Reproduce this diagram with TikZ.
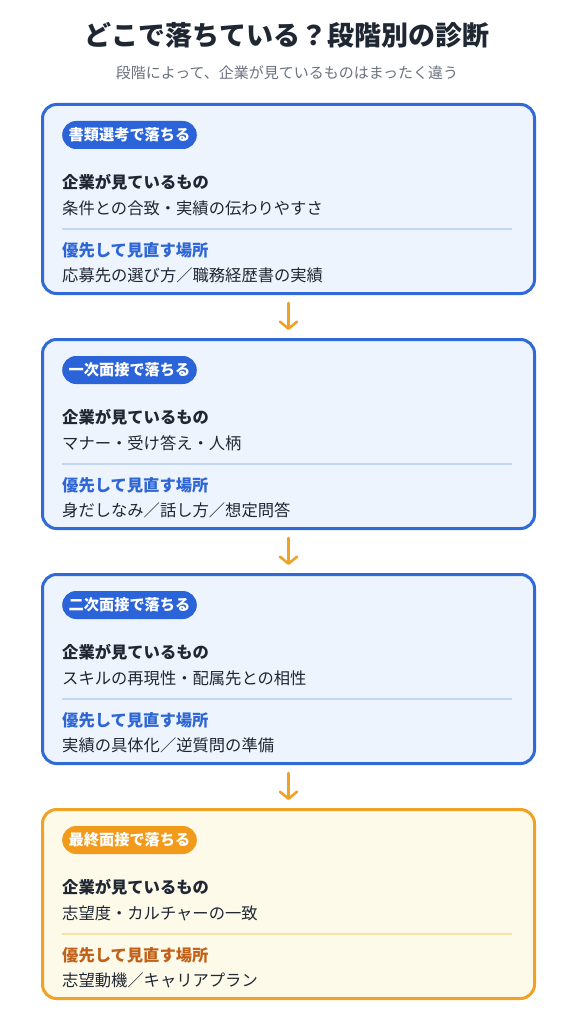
\documentclass[tikz,border=0pt]{standalone}
\usepackage{fontspec}
\setmainfont{Noto Sans CJK JP}
\usetikzlibrary{arrows.meta}
\definecolor{ink}{HTML}{1F2733}
\definecolor{subgray}{HTML}{6B7280}
\definecolor{borderB}{HTML}{2F6AD8}
\definecolor{fillB}{HTML}{EEF4FD}
\definecolor{pillB}{HTML}{2B63D9}
\definecolor{divB}{HTML}{C3D9F3}
\definecolor{headB}{HTML}{2E66D6}
\definecolor{borderO}{HTML}{F0A226}
\definecolor{fillO}{HTML}{FEFAEA}
\definecolor{pillO}{HTML}{F29B1B}
\definecolor{divO}{HTML}{F7E4A4}
\definecolor{headO}{HTML}{C0621A}
\definecolor{arrowO}{HTML}{F0A226}
\tikzset{
  txt/.style={inner sep=0pt, anchor=west},
  bodytxt/.style={txt, text=ink, text height=14.3pt, text depth=2pt, font=\fontsize{16.3pt}{19pt}\selectfont},
  headtxt/.style={txt, text height=14.3pt, text depth=2pt, font=\bfseries\fontsize{16.3pt}{19pt}\selectfont},
  stagebox/.style={draw=border#1, fill=fill#1, line width=3pt, rounded corners=14pt,
    minimum width=492pt, minimum height=189pt, anchor=north west, inner sep=0pt},
  pill/.style={fill=pill#1, text=white, rounded corners=14pt, inner xsep=6.5pt, inner ysep=0pt,
    minimum height=28pt, text height=13.4pt, text depth=1.8pt, anchor=west,
    font=\bfseries\fontsize{15.2pt}{18pt}\selectfont},
  divider/.style={draw=div#1, line width=2pt},
  flowarrow/.style={draw=arrowO, line width=2.6pt, line cap=round,
    -{Straight Barb[length=7pt,width=17pt,line cap=round,line join=round]}}
}
\newcommand\stage[6]{%
  \node[stagebox=#3] (#1) at (41,#2) {};
  \node[pill=#3] (#1p) at (62,#2+32) {#4};
  \node[headtxt, text=ink] (#1h) at (62,#2+79) {企業が見ているもの};
  \node[bodytxt] (#1a) at (62,#2+105) {#5};
  \draw[divider=#3] (62,#2+126) -- (512,#2+126);
  \node[headtxt, text=head#3] (#1k) at (62,#2+147) {優先して見直す場所};
  \node[bodytxt] (#1b) at (62,#2+172) {#6};
}
\begin{document}
\begin{tikzpicture}[x=1pt,y=-1pt]
\useasboundingbox[fill=white] (0,0) rectangle (574,1024);
\node[txt, anchor=center, text=ink, text height=23.8pt, text depth=3.2pt, font=\bfseries\fontsize{27pt}{31pt}\selectfont] (title) at (287,35) {どこで落ちている？段階別の診断};
\node[txt, anchor=center, text=subgray, text height=13.2pt, text depth=1.8pt, font=\fontsize{15pt}{18pt}\selectfont] (subtitle) at (287,73) {段階によって、企業が見ているものはまったく違う};
\stage{s1}{103}{B}{書類選考で落ちる}{条件との合致・実績の伝わりやすさ}{応募先の選び方／職務経歴書の実績}
\stage{s2}{338}{B}{一次面接で落ちる}{マナー・受け答え・人柄}{身だしなみ／話し方／想定問答}
\stage{s3}{573}{B}{二次面接で落ちる}{スキルの再現性・配属先との相性}{実績の具体化／逆質問の準備}
\stage{s4}{808}{O}{最終面接で落ちる}{志望度・カルチャーの一致}{志望動機／キャリアプラン}
\draw[flowarrow] ([yshift=-8pt]s1.south) -- ([yshift=8pt]s2.north);
\draw[flowarrow] ([yshift=-8pt]s2.south) -- ([yshift=8pt]s3.north);
\draw[flowarrow] ([yshift=-8pt]s3.south) -- ([yshift=8pt]s4.north);
\end{tikzpicture}
\end{document}
